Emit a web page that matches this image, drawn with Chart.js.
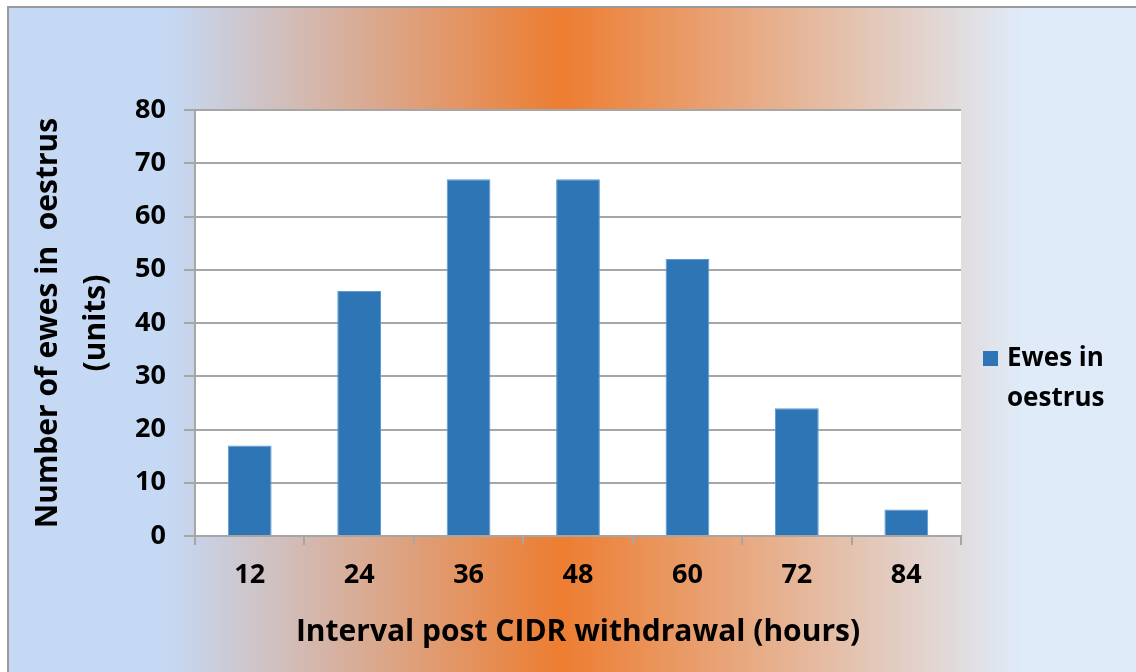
<!DOCTYPE html>
<html>
<head>
<meta charset="utf-8">
<script src="https://cdn.jsdelivr.net/npm/chart.js@4.4.1/dist/chart.umd.min.js"></script>
<style>
  html, body { margin: 0; padding: 0; background: #ffffff; }
  #wrap { width: 1136px; height: 672px; }
</style>
</head>
<body>
<div id="wrap"><canvas id="graficoEwes" width="1136" height="672"></canvas></div>
<script>
// dados
const intervalos = ['12', '24', '36', '48', '60', '72', '84'];
const ewesOestrus = [17, 46, 67, 67, 52, 24, 5];
const legendaTexto = ['Ewes in', 'oestrus'];
const tituloX = 'Interval post CIDR withdrawal (hours)';
const tituloY = ['Number of ewes in  oestrus', '(units)'];

const corBarra = '#2e75b6';
const corGrade = '#a6a6a6';
const fonte = "'Open Sans', 'Liberation Sans', sans-serif";

// fundo em degradê + área branca do gráfico
const fundoPlugin = {
    id: 'fundo',
    beforeDraw(chart) {
        const ctx = chart.ctx;
        const w = chart.width, h = chart.height;
        ctx.save();
        ctx.fillStyle = '#ffffff';
        ctx.fillRect(0, 0, w, h);
        const g = ctx.createLinearGradient(8, 0, w, 0);
        g.addColorStop(0, '#c5d9f5');
        g.addColorStop(0.14, '#c5d9f5');
        g.addColorStop(0.49, '#ed7d31');
        g.addColorStop(0.90, '#dfebf9');
        g.addColorStop(1, '#dfebf9');
        ctx.fillStyle = g;
        ctx.fillRect(8, 7, w - 8, h - 7);
        ctx.strokeStyle = '#9a9a9a';
        ctx.lineWidth = 2;
        ctx.beginPath();
        ctx.moveTo(8, h);
        ctx.lineTo(8, 7);
        ctx.lineTo(w, 7);
        ctx.stroke();
        const a = chart.chartArea;
        ctx.fillStyle = '#ffffff';
        ctx.fillRect(a.left, a.top, a.right - a.left, a.bottom - a.top);
        ctx.restore();
    }
};

// legenda em duas linhas à direita
const legendaPlugin = {
    id: 'legendaDuasLinhas',
    afterDraw(chart) {
        const ctx = chart.ctx;
        const a = chart.chartArea;
        const x = a.right + 22;
        const y = (a.top + a.bottom) / 2 + 36;
        ctx.save();
        ctx.fillStyle = corBarra;
        ctx.fillRect(x, y - 8, 15, 15);
        ctx.fillStyle = '#000000';
        ctx.font = 'bold 26px ' + fonte;
        ctx.textBaseline = 'middle';
        ctx.fillText(legendaTexto[0], x + 24, y);
        ctx.fillText(legendaTexto[1], x + 24, y + 40);
        ctx.restore();
    }
};

const ctx = document.getElementById('graficoEwes').getContext('2d');
window.chartEwes = new Chart(ctx, {
    type: 'bar',
    data: {
        labels: intervalos,
        datasets: [{
            label: legendaTexto.join(' '),
            data: ewesOestrus,
            backgroundColor: corBarra,
            borderColor: '#5b9bd5',
            borderWidth: 1,
            categoryPercentage: 1,
            barPercentage: 0.4
        }]
    },
    options: {
        responsive: false,
        animation: false,
        devicePixelRatio: 1,
        layout: { padding: { top: 110, right: 175, left: 24, bottom: 22 } },
        plugins: {
            legend: { display: false },
            tooltip: { enabled: false }
        },
        scales: {
            x: {
                grid: {
                    offset: true,
                    drawOnChartArea: false,
                    drawTicks: true,
                    tickLength: 9,
                    color: corGrade,
                    lineWidth: 2
                },
                border: { display: true, color: corGrade, width: 2 },
                ticks: {
                    color: '#000000',
                    font: { family: fonte, size: 27, weight: 'bold' },
                    padding: 14
                },
                title: {
                    display: true,
                    text: tituloX,
                    color: '#000000',
                    font: { family: fonte, size: 30, weight: 'bold' },
                    padding: { top: 8, bottom: 0 }
                },
                afterFit(scale) { scale.height = 114; }
            },
            y: {
                min: 0,
                max: 80,
                ticks: {
                    stepSize: 10,
                    color: '#000000',
                    font: { family: fonte, size: 27, weight: 'bold' },
                    padding: 18
                },
                grid: {
                    color: corGrade,
                    lineWidth: 2,
                    tickLength: 11
                },
                border: { display: true, color: corGrade, width: 2 },
                title: {
                    display: true,
                    text: tituloY,
                    color: '#000000',
                    font: { family: fonte, size: 30, weight: 'bold', lineHeight: 1.6 },
                    padding: { top: 0, bottom: 0 }
                },
                afterFit(scale) { scale.width = 171; }
            }
        }
    },
    plugins: [fundoPlugin, legendaPlugin]
});
</script>
</body>
</html>
